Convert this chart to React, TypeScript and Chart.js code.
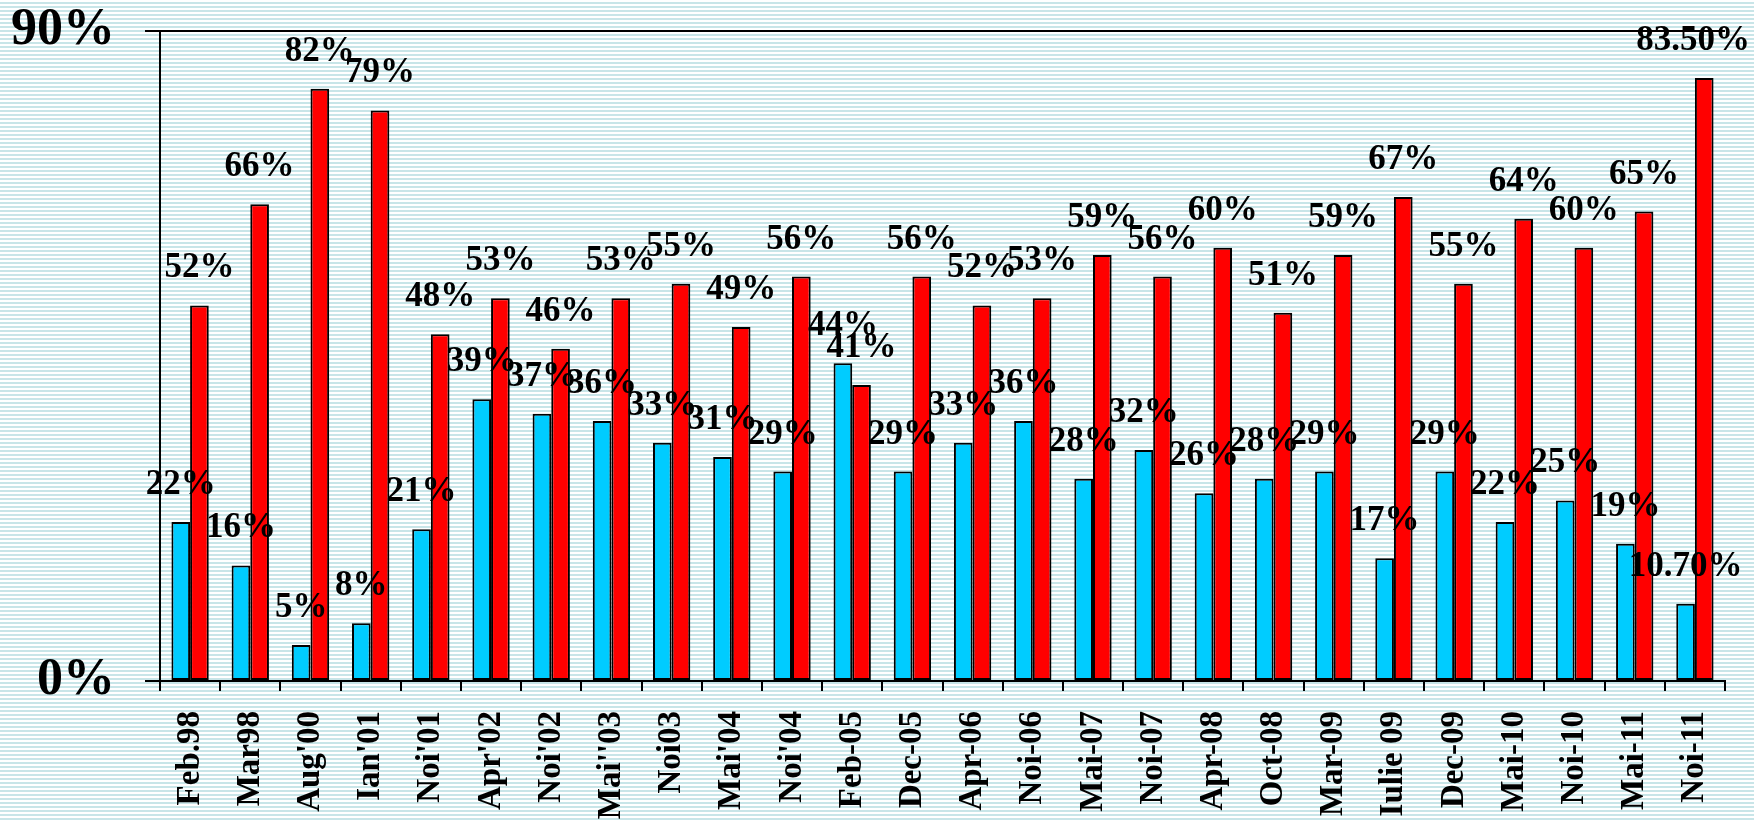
import React, { useEffect, useRef } from "react";
import { Chart, registerables } from "chart.js";

Chart.register(...registerables);

const categories = [
  "Feb.98", "Mar98", "Aug'00", "Ian'01", "Noi'01", "Apr'02", "Noi'02", "Mai''03",
  "Noi03", "Mai'04", "Noi'04", "Feb-05", "Dec-05", "Apr-06", "Noi-06", "Mai-07",
  "Noi-07", "Apr-08", "Oct-08", "Mar-09", "Iulie 09", "Dec-09", "Mai-10", "Noi-10",
  "Mai-11", "Noi-11",
];

const blueValues = [
  22, 16, 5, 8, 21, 39, 37, 36, 33, 31, 29, 44, 29, 33, 36, 28,
  32, 26, 28, 29, 17, 29, 22, 25, 19, 10.7,
];

const redValues = [
  52, 66, 82, 79, 48, 53, 46, 53, 55, 49, 56, 41, 56, 52, 53, 59,
  56, 60, 51, 59, 67, 55, 64, 60, 65, 83.5,
];

const yTicks = [0, 90];

const fmt = (v: number) => (Number.isInteger(v) ? `${v}%` : `${v.toFixed(2)}%`);

const labelPlugin = {
  id: "barLabels",
  afterDatasetsDraw(chart: any) {
    const ctx = chart.ctx;
    ctx.save();
    ctx.font = "bold 35px 'Liberation Serif', serif";
    ctx.fillStyle = "#000";
    ctx.textAlign = "center";
    ctx.textBaseline = "middle";
    chart.data.datasets.forEach((ds: any, di: number) => {
      const meta = chart.getDatasetMeta(di);
      meta.data.forEach((el: any, i: number) => {
        const txt = fmt(ds.data[i]);
        const w = ctx.measureText(txt).width;
        let x = el.x;
        if (x + w / 2 > chart.width - 4) x = chart.width - 4 - w / 2;
        ctx.fillText(txt, x, el.y - 37);
      });
    });
    ctx.restore();
  },
};

export default function App() {
  const ref = useRef<HTMLCanvasElement | null>(null);
  useEffect(() => {
    if (!ref.current) return;
    const chart = new Chart(ref.current, {
      type: "bar",
      data: {
        labels: categories,
        datasets: [
          {
            data: blueValues,
            backgroundColor: "#00CCFF",
            borderColor: "#000",
            borderWidth: 2,
            borderSkipped: false,
            categoryPercentage: 0.62,
            barPercentage: 1.0,
          },
          {
            data: redValues,
            backgroundColor: "#FF0000",
            borderColor: "#000",
            borderWidth: 2,
            borderSkipped: false,
            categoryPercentage: 0.62,
            barPercentage: 1.0,
          },
        ],
      },
      options: {
        animation: false,
        responsive: false,
        maintainAspectRatio: false,
        layout: { padding: { top: 31, right: 29, left: 0, bottom: 0 } },
        plugins: { legend: { display: false }, tooltip: { enabled: false } },
        scales: {
          x: {
            offset: true,
            grid: {
              display: true,
              offset: true,
              drawOnChartArea: false,
              drawTicks: true,
              tickLength: 10,
              color: "#000",
              lineWidth: 2,
            },
            border: { display: true, color: "#000", width: 2 },
            ticks: {
              autoSkip: false,
              maxRotation: 90,
              minRotation: 90,
              padding: 20,
              color: "#000",
              font: { family: "'Liberation Serif', serif", size: 33, weight: "bold", lineHeight: 1 },
            },
            afterFit: (scale: any) => {
              scale.height = 141;
              scale.paddingLeft = 0;
              scale.paddingRight = 0;
            },
          },
          y: {
            min: 0,
            max: 90,
            afterBuildTicks: (scale: any) => {
              scale.ticks = yTicks.map((v) => ({ value: v }));
            },
            grid: {
              display: true,
              drawOnChartArea: true,
              drawTicks: true,
              tickLength: 15,
              color: "#000",
              lineWidth: 2,
            },
            border: { display: true, color: "#000", width: 2 },
            ticks: {
              padding: 30,
              color: "#000",
              callback: (v: any) => `${v}%`,
              font: { family: "'Liberation Serif', serif", size: 52, weight: "bold", lineHeight: 1 },
            },
            afterFit: (scale: any) => {
              scale.width = 160;
              scale.paddingTop = 0;
              scale.paddingBottom = 0;
            },
          },
        },
      },
      plugins: [labelPlugin],
    });
    return () => chart.destroy();
  }, []);
  return (
    <div
      style={{
        position: "absolute",
        left: 0,
        top: 0,
        width: 1754,
        height: 822,
        background:
          "repeating-linear-gradient(to bottom, #ffffff 0px, #ffffff 2px, #c8e5e8 2px, #c8e5e8 4px)",
      }}
    >
      <canvas ref={ref} width={1754} height={822} style={{ display: "block" }} />
    </div>
  );
}
